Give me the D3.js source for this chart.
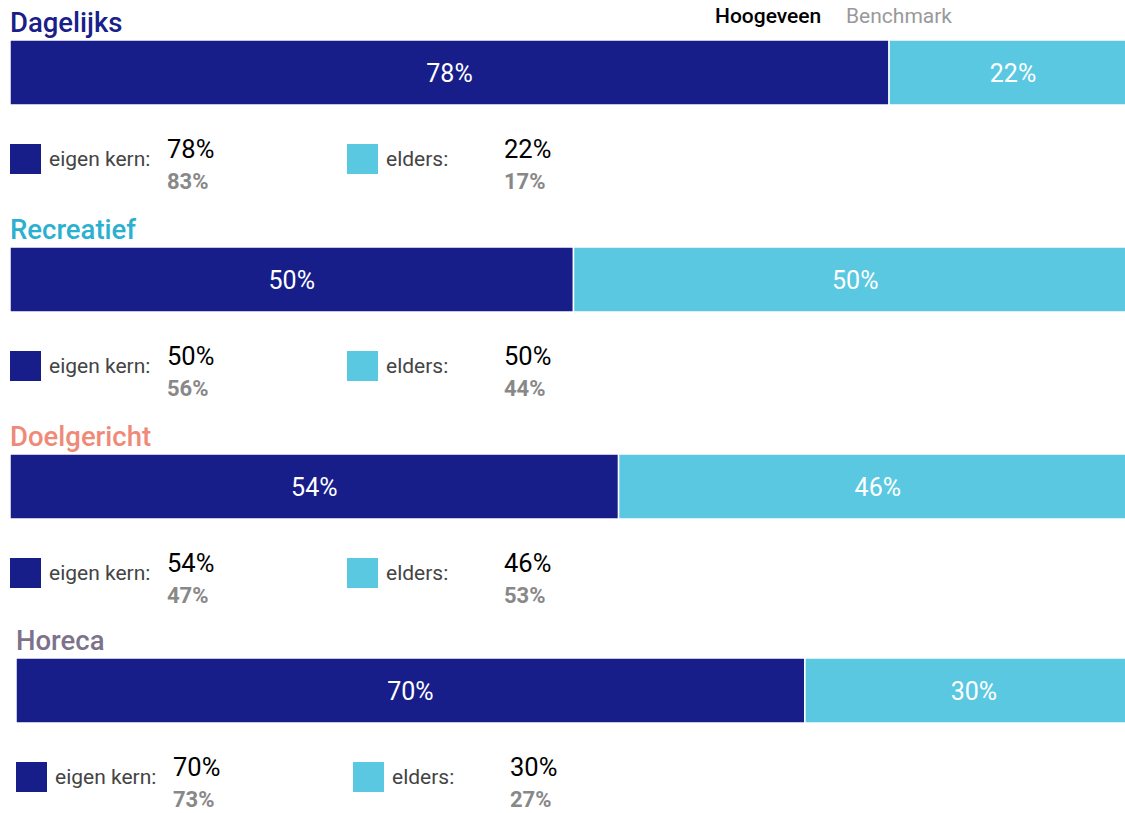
<!DOCTYPE html>
<html>
<head>
<meta charset="utf-8">
<script src="https://cdn.jsdelivr.net/npm/d3@7"></script>
<style>
  body { margin: 0; background: #fff; }
  svg { font-family: Roboto, sans-serif; display: block; }
</style>
</head>
<body>
<svg id="chart" width="1125" height="813"></svg>
<script>
// data
const categories = ["Dagelijks", "Recreatief", "Doelgericht", "Horeca"]
const eigenKern = [78, 50, 54, 70]
const elders = [22, 50, 46, 30]
const benchEigenKern = [83, 56, 47, 73]
const benchElders = [17, 44, 53, 27]
const seriesLabels = ["eigen kern:", "elders:"]
const headerLabels = ["Hoogeveen", "Benchmark"]

// styling
const titleColors = ["#19208a", "#2bb0cf", "#f08a78", "#7c728c"]
const darkBlue = "#171e8a", lightBlue = "#5bc8e2"
const panelShift = [0, 0, 0, 6]

const svg = d3.select("#chart")

const x = d3.scaleLinear().domain([0, 100]).range([0, 1127])
const y = d3.scaleBand().domain(categories).range([40, 40 + 4 * 207]).paddingInner(0)
const barH = 65

// header legend
svg.append("text").attr("x", 715).attr("y", 23)
    .style("font-size", "21px").style("font-weight", 500).style("fill", "#000")
    .text(headerLabels[0])
svg.append("text").attr("x", 846).attr("y", 23)
    .style("font-size", "21px").style("fill", "#999")
    .text(headerLabels[1])

categories.forEach(function(cat, i){
    var x0 = 10 + panelShift[i]
    var top = y(cat) - (i == 3 ? 3 : 0)
    var g = svg.append("g").attr("transform", "translate(" + x0 + "," + top + ")")

    g.append("text").attr("x", 0).attr("y", -8)
        .style("font-size", "27.5px").style("font-weight", 500)
        .style("fill", titleColors[i])
        .text(cat)

    var segs = [
        {v: eigenKern[i], start: 0, color: darkBlue},
        {v: elders[i], start: eigenKern[i], color: lightBlue}
    ]

    g.selectAll(".seg").data(segs).enter()
        .append("rect")
        .attr("class", "seg")
        .attr("x", function(d){ return x(d.start) })
        .attr("y", 0)
        .attr("width", function(d){ return x(d.v) })
        .attr("height", barH)
        .style("fill", function(d){ return d.color })
        .style("stroke", "#fff")
        .style("stroke-width", 1.5)

    g.selectAll(".segLabel").data(segs).enter()
        .append("text")
        .attr("class", "segLabel")
        .attr("x", function(d){ return x(d.start + d.v / 2) })
        .attr("y", barH / 2 + 9)
        .attr("text-anchor", "middle")
        .style("font-size", "25px")
        .style("fill", "#fff")
        .text(function(d){ return d.v + "%" })

    // legend row
    var leg = [
        {lx: 0, color: darkBlue, label: seriesLabels[0], val: eigenKern[i], bench: benchEigenKern[i]},
        {lx: 337, color: lightBlue, label: seriesLabels[1], val: elders[i], bench: benchElders[i]}
    ]
    var lg = g.selectAll(".leg").data(leg).enter()
        .append("g")
        .attr("class", "leg")
        .attr("transform", function(d){ return "translate(" + d.lx + ",0)" })

    lg.append("rect")
        .attr("x", 0).attr("y", 104)
        .attr("width", 31).attr("height", 30)
        .style("fill", function(d){ return d.color })

    lg.append("text")
        .attr("x", 39).attr("y", 126)
        .style("font-size", "21px").style("fill", "#444")
        .text(function(d){ return d.label })

    lg.append("text")
        .attr("x", 157).attr("y", 118)
        .style("font-size", "25.5px").style("fill", "#000")
        .text(function(d){ return d.val + "%" })

    lg.append("text")
        .attr("x", 157).attr("y", 149)
        .style("font-size", "22px").style("font-weight", 700).style("fill", "#888")
        .text(function(d){ return d.bench + "%" })
})
</script>
</body>
</html>
